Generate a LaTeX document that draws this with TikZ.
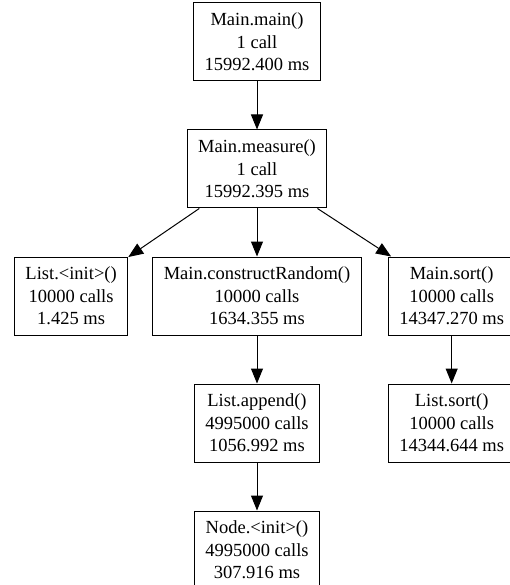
\documentclass[tikz,border=0pt]{standalone}
\usepackage{fontspec}
\setmainfont{Liberation Serif}
\usetikzlibrary{arrows.meta, positioning}

\begin{document}
\begin{tikzpicture}[
  node distance=48pt and 24pt,
  func/.style={rectangle, draw, line width=1pt, minimum height=78pt, inner xsep=11pt, align=center, font=\fontsize{18.5}{22.5}\selectfont},
  call/.style={->, line width=1pt},
  >={Triangle[length=15pt, width=12pt]}
]
\useasboundingbox (-257pt,42pt) rectangle (253pt,-543pt);

\node[func] (main) {Main.main()\\1 call\\15992.400 ms};
\node[func, below=of main] (measure) {Main.measure()\\1 call\\15992.395 ms};

\node[func, below=of measure] (construct) {Main.constructRandom()\\10000 calls\\1634.355 ms};
\node[func, left=of construct] (listinit) {List.<init>()\\10000 calls\\1.425 ms};
\node[func, right=26pt of construct] (sort) {Main.sort()\\10000 calls\\14347.270 ms};

\node[func, below=of construct] (append) {List.append()\\4995000 calls\\1056.992 ms};
\node[func, below=of append] (nodeinit) {Node.<init>()\\4995000 calls\\307.916 ms};
\node[func, below=of sort] (listsort) {List.sort()\\10000 calls\\14344.644 ms};

\draw[call] (main) -- (measure);
\draw[call] (measure) -- (listinit);
\draw[call] (measure) -- (construct);
\draw[call] (measure) -- (sort);
\draw[call] (construct) -- (append);
\draw[call] (append) -- (nodeinit);
\draw[call] (sort) -- (listsort);

\end{tikzpicture}
\end{document}
